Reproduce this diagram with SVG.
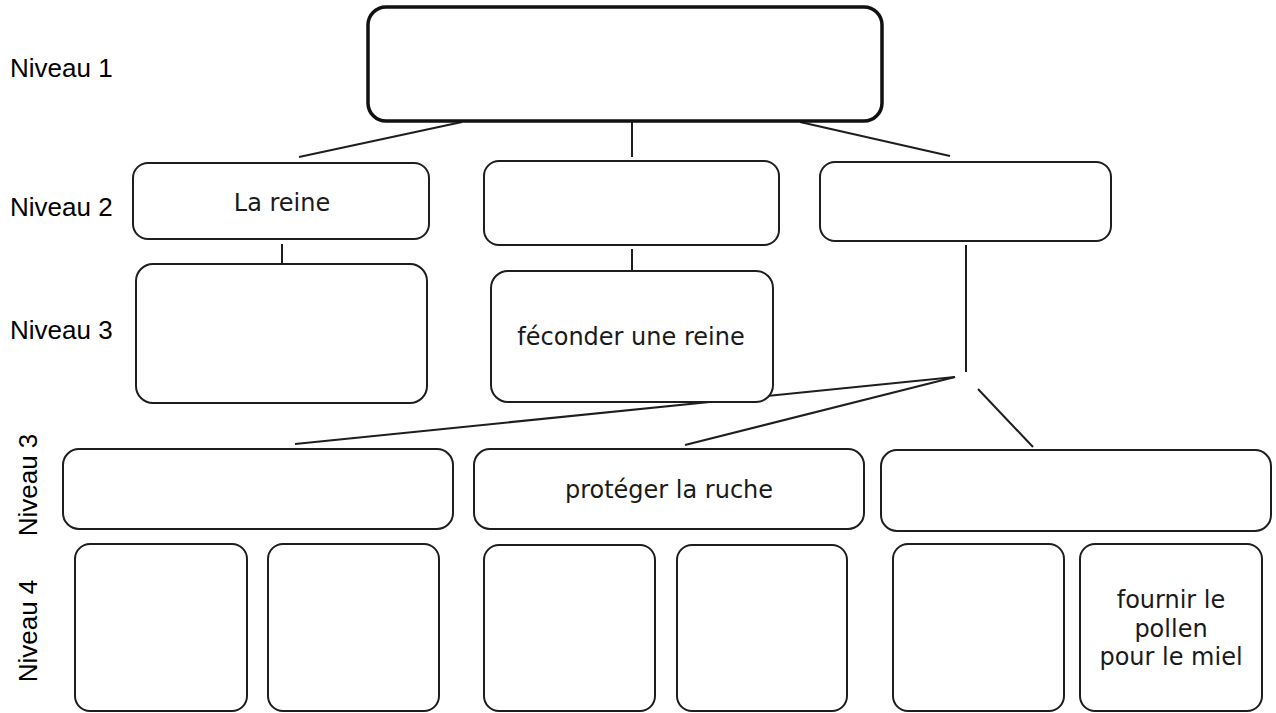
<svg xmlns="http://www.w3.org/2000/svg" width="1276" height="713" viewBox="0 0 1276 713">
<style>
.bg{fill:#ffffff}
.box{fill:#ffffff;stroke:#1e1e1e;stroke-width:2}
.top{fill:#ffffff;stroke:#111111;stroke-width:3.5}
.ln{stroke:#1e1e1e;stroke-width:2;fill:none}
.lbl{font-family:"Liberation Sans",Arial,sans-serif;font-size:26px;fill:#000000}
.txt{font-family:"DejaVu Sans",Verdana,sans-serif;font-size:24px;fill:#1a1a1a;text-anchor:middle}
</style>
<rect class="bg" x="0" y="0" width="1276" height="713"/>
<g id="labels">
<text class="lbl" x="10" y="77">Niveau 1</text>
<text class="lbl" x="10" y="216">Niveau 2</text>
<text class="lbl" x="10" y="339">Niveau 3</text>
<text class="lbl" text-anchor="middle" transform="translate(37,485) rotate(-90)">Niveau 3</text>
<text class="lbl" text-anchor="middle" transform="translate(37,631) rotate(-90)">Niveau 4</text>
</g>
<g id="connectors">
<line class="ln" x1="462" y1="122" x2="299" y2="157"/>
<line class="ln" x1="632" y1="122" x2="632" y2="157"/>
<line class="ln" x1="800" y1="122" x2="950" y2="156"/>
<line class="ln" x1="282" y1="244" x2="282" y2="264"/>
<line class="ln" x1="632" y1="249" x2="632" y2="270"/>
<line class="ln" x1="966" y1="245" x2="966" y2="372"/>
<line class="ln" x1="295" y1="444" x2="955" y2="377"/>
<line class="ln" x1="685" y1="445" x2="955" y2="377"/>
<line class="ln" x1="978" y1="389" x2="1033" y2="447"/>
</g>
<g id="n1"><rect class="top" x="368" y="7" width="514" height="114" rx="18"/></g>
<g id="n2a"><rect class="box" x="133" y="163" width="296" height="76" rx="15"/><text class="txt" x="282" y="211">La reine</text></g>
<g id="n2b"><rect class="box" x="484" y="161" width="295" height="84" rx="15"/></g>
<g id="n2c"><rect class="box" x="820" y="162" width="291" height="79" rx="15"/></g>
<g id="n3a"><rect class="box" x="136" y="264" width="291" height="139" rx="17"/></g>
<g id="n3b"><rect class="box" x="491" y="271" width="282" height="131" rx="17"/><text class="txt" x="631" y="345">féconder une reine</text></g>
<g id="n3c"><rect class="box" x="63" y="449" width="390" height="80" rx="16"/></g>
<g id="n3d"><rect class="box" x="474" y="449" width="390" height="80" rx="16"/><text class="txt" x="669" y="498">protéger la ruche</text></g>
<g id="n3e"><rect class="box" x="881" y="450" width="390" height="81" rx="16"/></g>
<g id="n4a"><rect class="box" x="75" y="544" width="172" height="167" rx="15"/></g>
<g id="n4b"><rect class="box" x="268" y="544" width="171" height="167" rx="15"/></g>
<g id="n4c"><rect class="box" x="484" y="545" width="171" height="166" rx="15"/></g>
<g id="n4d"><rect class="box" x="677" y="545" width="170" height="166" rx="15"/></g>
<g id="n4e"><rect class="box" x="893" y="544" width="171" height="167" rx="15"/></g>
<g id="n4f"><rect class="box" x="1080" y="544" width="182" height="167" rx="15"/>
<text class="txt" x="1171" y="608">fournir le</text>
<text class="txt" x="1171" y="637">pollen</text>
<text class="txt" x="1171" y="665">pour le miel</text></g>
</svg>
